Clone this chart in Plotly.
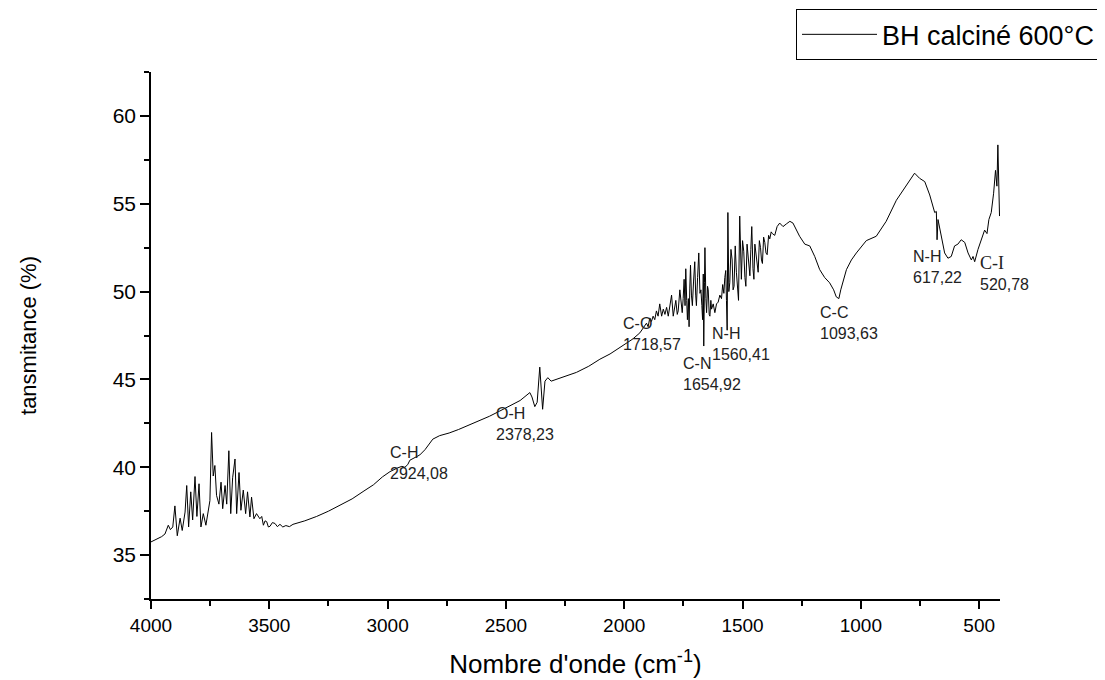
import plotly.graph_objects as go

# Wavenumber (cm-1) and transmittance (%)
wavenumber = [
    4000, 3985, 3969, 3955, 3941, 3927, 3918, 3908, 3899, 3889, 3877, 3868, 3856, 3849, 3841,
    3832, 3824, 3814, 3806, 3797, 3789, 3779, 3768, 3758, 3751, 3744, 3737, 3730, 3723, 3713,
    3704, 3697, 3687, 3680, 3671, 3663, 3655, 3645, 3638, 3628, 3620, 3610, 3600, 3592, 3582,
    3575, 3565, 3554, 3540, 3532, 3525, 3518, 3511, 3504, 3497, 3487, 3476, 3466, 3455, 3443,
    3430, 3415, 3400, 3350, 3300, 3250, 3200,
    3150, 3100, 3060, 3022, 2990, 2960, 2940, 2927, 2915, 2906, 2885, 2864, 2842, 2809, 2780,
    2740, 2700, 2665, 2620, 2570, 2526, 2480, 2440, 2399, 2390, 2378, 2368, 2357, 2350, 2345,
    2335, 2323, 2309, 2286, 2250, 2202, 2150, 2103, 2060, 2031, 2000, 1964, 1934,
    1906, 1899, 1892, 1885, 1878, 1871, 1864, 1857, 1850, 1842, 1835, 1828, 1821, 1814, 1807,
    1800, 1793, 1786, 1782, 1776, 1772, 1765, 1759, 1755, 1751, 1747, 1743, 1740, 1736, 1733,
    1729, 1726, 1723, 1720, 1716, 1712, 1707, 1702, 1698, 1695, 1690, 1685, 1680, 1676, 1672,
    1669, 1666, 1664, 1661, 1659, 1655, 1652, 1648, 1645, 1641, 1638, 1634, 1631, 1624, 1617,
    1610, 1603, 1596, 1589, 1584, 1579, 1575, 1571, 1568, 1565, 1562, 1558, 1554, 1549, 1544,
    1540, 1536, 1531, 1526, 1521, 1517, 1512, 1508, 1505, 1500, 1495, 1490, 1486, 1481, 1476,
    1472, 1469, 1465, 1461, 1456, 1452, 1448, 1444, 1439, 1434, 1429, 1424, 1420, 1416, 1411,
    1406, 1401, 1396, 1390, 1385, 1379, 1374, 1364, 1354, 1343, 1329,
    1315, 1300, 1287, 1273, 1259, 1237, 1216, 1195, 1174, 1153, 1132, 1115, 1104, 1093, 1085,
    1061, 1040, 1019, 977, 935, 893, 850, 808, 785, 773, 752, 730, 709, 688, 681,
    678, 674, 660, 646, 632, 618, 604, 590, 576, 561, 547, 533, 526, 519, 505,
    491, 477, 467, 459, 449, 439, 431, 425, 421, 418, 414,
]
transmittance = [
    35.75, 35.85, 35.94, 36.05, 36.2, 36.7, 36.45, 36.6, 37.8, 36.1, 37.1, 36.4, 37.45, 38.96, 36.6,
    38.6, 37.0, 39.47, 37.2, 39.06, 36.6, 37.36, 36.7, 37.64, 38.1, 41.98, 39.5, 40.1, 38.4, 37.9,
    39.15, 37.64, 38.96, 37.9, 40.94, 37.36, 39.4, 40.47, 37.36, 39.7, 37.55, 38.7, 37.36, 38.6, 37.17,
    38.3, 37.07, 37.36, 37.07, 37.2, 36.7, 36.95, 36.9, 36.6, 36.64, 36.85, 36.8, 36.62, 36.75, 36.6,
    36.68, 36.62, 36.75, 36.95, 37.2, 37.5, 37.85,
    38.2, 38.65, 39.0, 39.45, 39.75, 39.95, 40.05, 40.0, 40.15, 40.4, 40.55, 40.7, 41.0, 41.6, 41.8,
    41.95, 42.15, 42.35, 42.6, 42.9, 43.2, 43.5, 43.8, 44.25, 44.0, 43.45, 43.7, 45.7, 43.8, 43.3,
    44.9, 45.1, 44.9, 45.0, 45.2, 45.4, 45.75, 46.15, 46.45, 46.7, 46.95, 47.3, 47.65,
    48.2, 48.0, 48.5, 48.3, 48.6, 48.4, 48.9, 48.6, 49.3, 48.6, 49.0, 48.7, 49.1, 48.6, 49.3,
    49.8, 48.6, 49.4, 49.5, 48.7, 48.9, 50.1, 49.0, 48.8, 49.6, 50.7, 49.2, 51.3, 49.5, 48.4,
    49.6, 48.0, 50.2, 51.5, 49.8, 49.2, 50.6, 51.7, 49.8, 49.2, 50.8, 52.2, 49.9, 50.1, 49.2,
    48.4, 51.0, 46.9, 50.5, 52.5, 49.6, 48.8, 50.3, 50.1, 48.7, 48.6, 49.5, 49.0, 49.3, 48.8,
    49.3, 49.4, 49.8, 49.6, 50.4, 49.9, 50.8, 51.2, 49.5, 47.8, 54.5, 50.0, 50.5, 52.4, 51.8,
    50.1, 50.3, 52.6, 51.1, 50.0, 49.5, 54.3, 51.5, 50.7, 52.9, 52.3, 50.8, 50.3, 52.7, 52.0,
    51.0, 50.9, 52.4, 53.7, 51.3, 50.7, 52.7, 52.2, 51.4, 51.1, 52.9, 52.5, 51.8, 51.6, 53.1,
    52.8, 52.2, 52.1, 53.2, 53.0, 53.4, 53.3, 53.2, 53.7, 53.9, 53.7,
    53.85, 54.0, 53.9, 53.5, 53.15, 52.7, 52.6, 52.0, 51.25, 50.8, 50.5, 50.1, 49.7, 49.6, 50.1,
    51.25, 51.8, 52.2, 52.9, 53.15, 54.0, 55.2, 56.0, 56.5, 56.74, 56.45, 56.26, 55.5, 54.5, 54.56,
    52.95, 54.1, 53.1, 52.2, 51.9, 52.0, 52.6, 52.7, 52.95, 52.8, 52.2, 51.8, 52.0, 51.7, 52.4,
    52.95, 53.5, 53.3, 54.1, 54.5, 55.6, 56.9, 56.0, 58.35, 56.4, 54.3,
]

# Peak labels: text and anchor position (wavenumber, transmittance)
peak_labels = ["C-H<br>2924,08", "O-H<br>2378,23", "C-O<br>1718,57", "N-H<br>1560,41",
               "C-N<br>1654,92", "C-C<br>1093,63", "N-H<br>617,22",
               "<span style='font-family:Liberation Serif, Times New Roman, serif;font-size:18px'>C-I</span><br>520,78"]
peak_label_x = [2999, 2551, 2014, 1638, 1761, 1182, 789, 506]
peak_label_y = [41.42, 43.64, 48.8, 48.24, 46.53, 49.4, 52.6, 52.3]

x_ticks = [4000, 3500, 3000, 2500, 2000, 1500, 1000, 500]
y_ticks = [35, 40, 45, 50, 55, 60]

FONT = "Liberation Sans, Arial, sans-serif"

fig = go.Figure()
fig.add_trace(go.Scatter(
    x=wavenumber, y=transmittance, mode="lines",
    line=dict(color="black", width=1),
    name="BH calciné 600°C",
))

for txt, px, py in zip(peak_labels, peak_label_x, peak_label_y):
    fig.add_annotation(x=px, y=py, text=txt, showarrow=False, xanchor="left", yanchor="top",
                       align="left", font=dict(family=FONT, size=16, color="#222"))

fig.update_layout(
    width=1097, height=672,
    margin=dict(l=143, r=105, t=64, b=81, autoexpand=False),
    paper_bgcolor="white", plot_bgcolor="white",
    font=dict(family=FONT, color="black"),
    showlegend=True,
    legend=dict(x=1.1178, y=1.119, xanchor="right", yanchor="top",
                bordercolor="black", borderwidth=1, bgcolor="white",
                itemwidth=75,
                font=dict(size=27, family=FONT)),
    xaxis=dict(
        range=[4000, 412], tickvals=x_ticks, showgrid=False, zeroline=False,
        showline=True, linecolor="black", linewidth=1.5,
        ticks="outside", ticklen=8, tickwidth=1.5, tickcolor="black",
        minor=dict(dtick=250, ticks="outside", ticklen=5, tickwidth=1.5, tickcolor="black", showgrid=False),
        tickfont=dict(size=19, family=FONT),
        title=dict(text="Nombre d'onde (cm<sup>-1</sup>)", font=dict(size=26, family=FONT), standoff=20),
    ),
    yaxis=dict(
        range=[32.5, 62.5], tickvals=y_ticks, showgrid=False, zeroline=False,
        showline=True, linecolor="black", linewidth=1.5,
        ticks="outside", ticklen=9, tickwidth=1.5, tickcolor="black",
        minor=dict(dtick=2.5, tick0=0, ticks="outside", ticklen=5, tickwidth=1.5, tickcolor="black", showgrid=False),
        tickfont=dict(size=21, family=FONT),
        title=dict(text="tansmitance (%)", font=dict(size=22, family=FONT), standoff=70),
    ),
)

fig.write_html("out.html")
